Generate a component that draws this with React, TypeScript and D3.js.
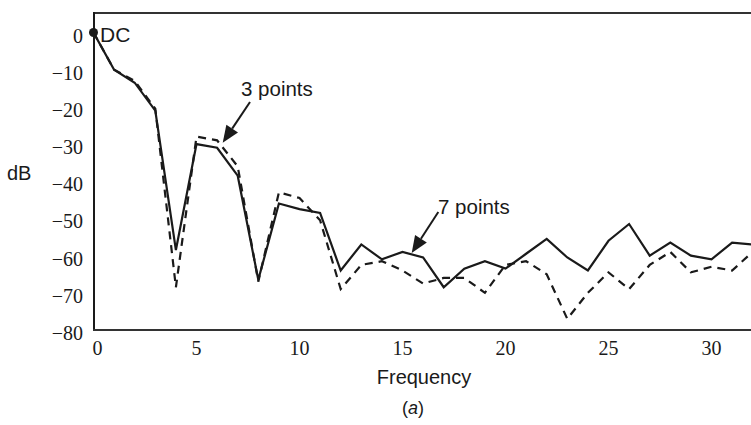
import React from "react";
import * as d3 from "d3";

const freqs = d3.range(0, 33);
const sevenPoints = [0, -10, -13.5, -21, -58.5, -30, -31, -38.5, -66.5, -46, -47.5, -48.5, -64, -57, -61, -59, -60.5, -68.5, -63.5, -61.5, -63.5, -59.5, -55.5, -60.5, -64, -56, -51.5, -60, -56.5, -60, -61, -56.5, -57];
const threePoints = [0, -10, -13, -20.5, -68.5, -28, -29, -36, -67, -43, -44.5, -50.5, -69, -62.5, -61.5, -64, -67.5, -66, -66, -70, -62.5, -61.5, -65, -77, -70, -64.5, -69, -62.5, -59, -64.5, -63, -64, -59];
const yTicks = [0, -10, -20, -30, -40, -50, -60, -70, -80];
const xTicks = [0, 5, 10, 15, 20, 25, 30];

const W = 751;
const H = 425;
const left = 94;
const top = 13;
const bottom = 330;

export default function App() {
  const x = d3.scaleLinear().domain([0, 32]).range([93.5, 93.5 + 32 * 20.6]);
  const y = d3.scaleLinear().domain([0, -80]).range([32.5, bottom]);
  const line = d3
    .line<number>()
    .x((_, i) => x(freqs[i]))
    .y((d) => y(d));

  const sans = { fontFamily: "'Liberation Sans', Arial, sans-serif" };
  const serif = { fontFamily: "'Times New Roman', Times, 'Liberation Serif', 'Noto Serif', 'DejaVu Serif', serif" };
  const ink = "#1a1a1a";

  const arrow = (x1: number, y1: number, x2: number, y2: number) => {
    const ang = Math.atan2(y2 - y1, x2 - x1);
    const len = 17;
    const half = 7;
    const bx = x2 - len * Math.cos(ang);
    const by = y2 - len * Math.sin(ang);
    const px = -Math.sin(ang) * half;
    const py = Math.cos(ang) * half;
    return (
      <g>
        <line x1={x1} y1={y1} x2={bx} y2={by} stroke={ink} strokeWidth={2} />
        <polygon points={`${x2},${y2} ${bx + px},${by + py} ${bx - px},${by - py}`} fill={ink} />
      </g>
    );
  };

  return (
    <svg width={W} height={H} style={{ position: "absolute", left: 0, top: 0, background: "#fff" }}>
      <defs>
        <clipPath id="plot">
          <rect x={left} y={0} width={W - left} height={bottom + 5} />
        </clipPath>
      </defs>
      <g clipPath="url(#plot)">
        <path d={line(threePoints) || ""} fill="none" stroke={ink} strokeWidth={2.2} strokeDasharray="8,6" />
        <path d={line(sevenPoints) || ""} fill="none" stroke={ink} strokeWidth={2.2} strokeLinejoin="miter" />
      </g>
      <line x1={left} y1={top} x2={W} y2={top} stroke="#333" strokeWidth={2} />
      <line x1={left} y1={top - 1} x2={left} y2={bottom + 1} stroke={ink} strokeWidth={2} />
      <line x1={left - 1} y1={bottom} x2={W} y2={bottom} stroke="#333" strokeWidth={2} />
      {yTicks.map((t) => (
        <text key={t} x={83} y={y(t) + 10} textAnchor="end" style={serif} fontSize={20} fill={ink}>
          {t === 0 ? "0" : "\u2212" + Math.abs(t)}
        </text>
      ))}
      {xTicks.map((t) => (
        <text key={t} x={x(t) + (t === 0 ? 4 : 0)} y={355} textAnchor="middle" style={serif} fontSize={20} fill={ink}>
          {t}
        </text>
      ))}
      <text x={7} y={180} style={sans} fontSize={20} fill={ink}>dB</text>
      <text x={424} y={384} textAnchor="middle" style={sans} fontSize={20} fill={ink}>Frequency</text>
      <text x={413} y={414} textAnchor="middle" style={sans} fontSize={18} fill={ink}>
        (<tspan fontStyle="italic">a</tspan>)
      </text>
      <circle cx={x(0)} cy={y(0)} r={4.5} fill={ink} />
      <text x={100} y={41.5} style={sans} fontSize={21} fill={ink}>DC</text>
      <text x={241} y={96} style={sans} fontSize={20.5} fill={ink}>3 points</text>
      {arrow(250, 102, 222.7, 142.7)}
      <text x={438} y={214} style={sans} fontSize={20.5} fill={ink}>7 points</text>
      {arrow(438.3, 212, 411.7, 253)}
    </svg>
  );
}
